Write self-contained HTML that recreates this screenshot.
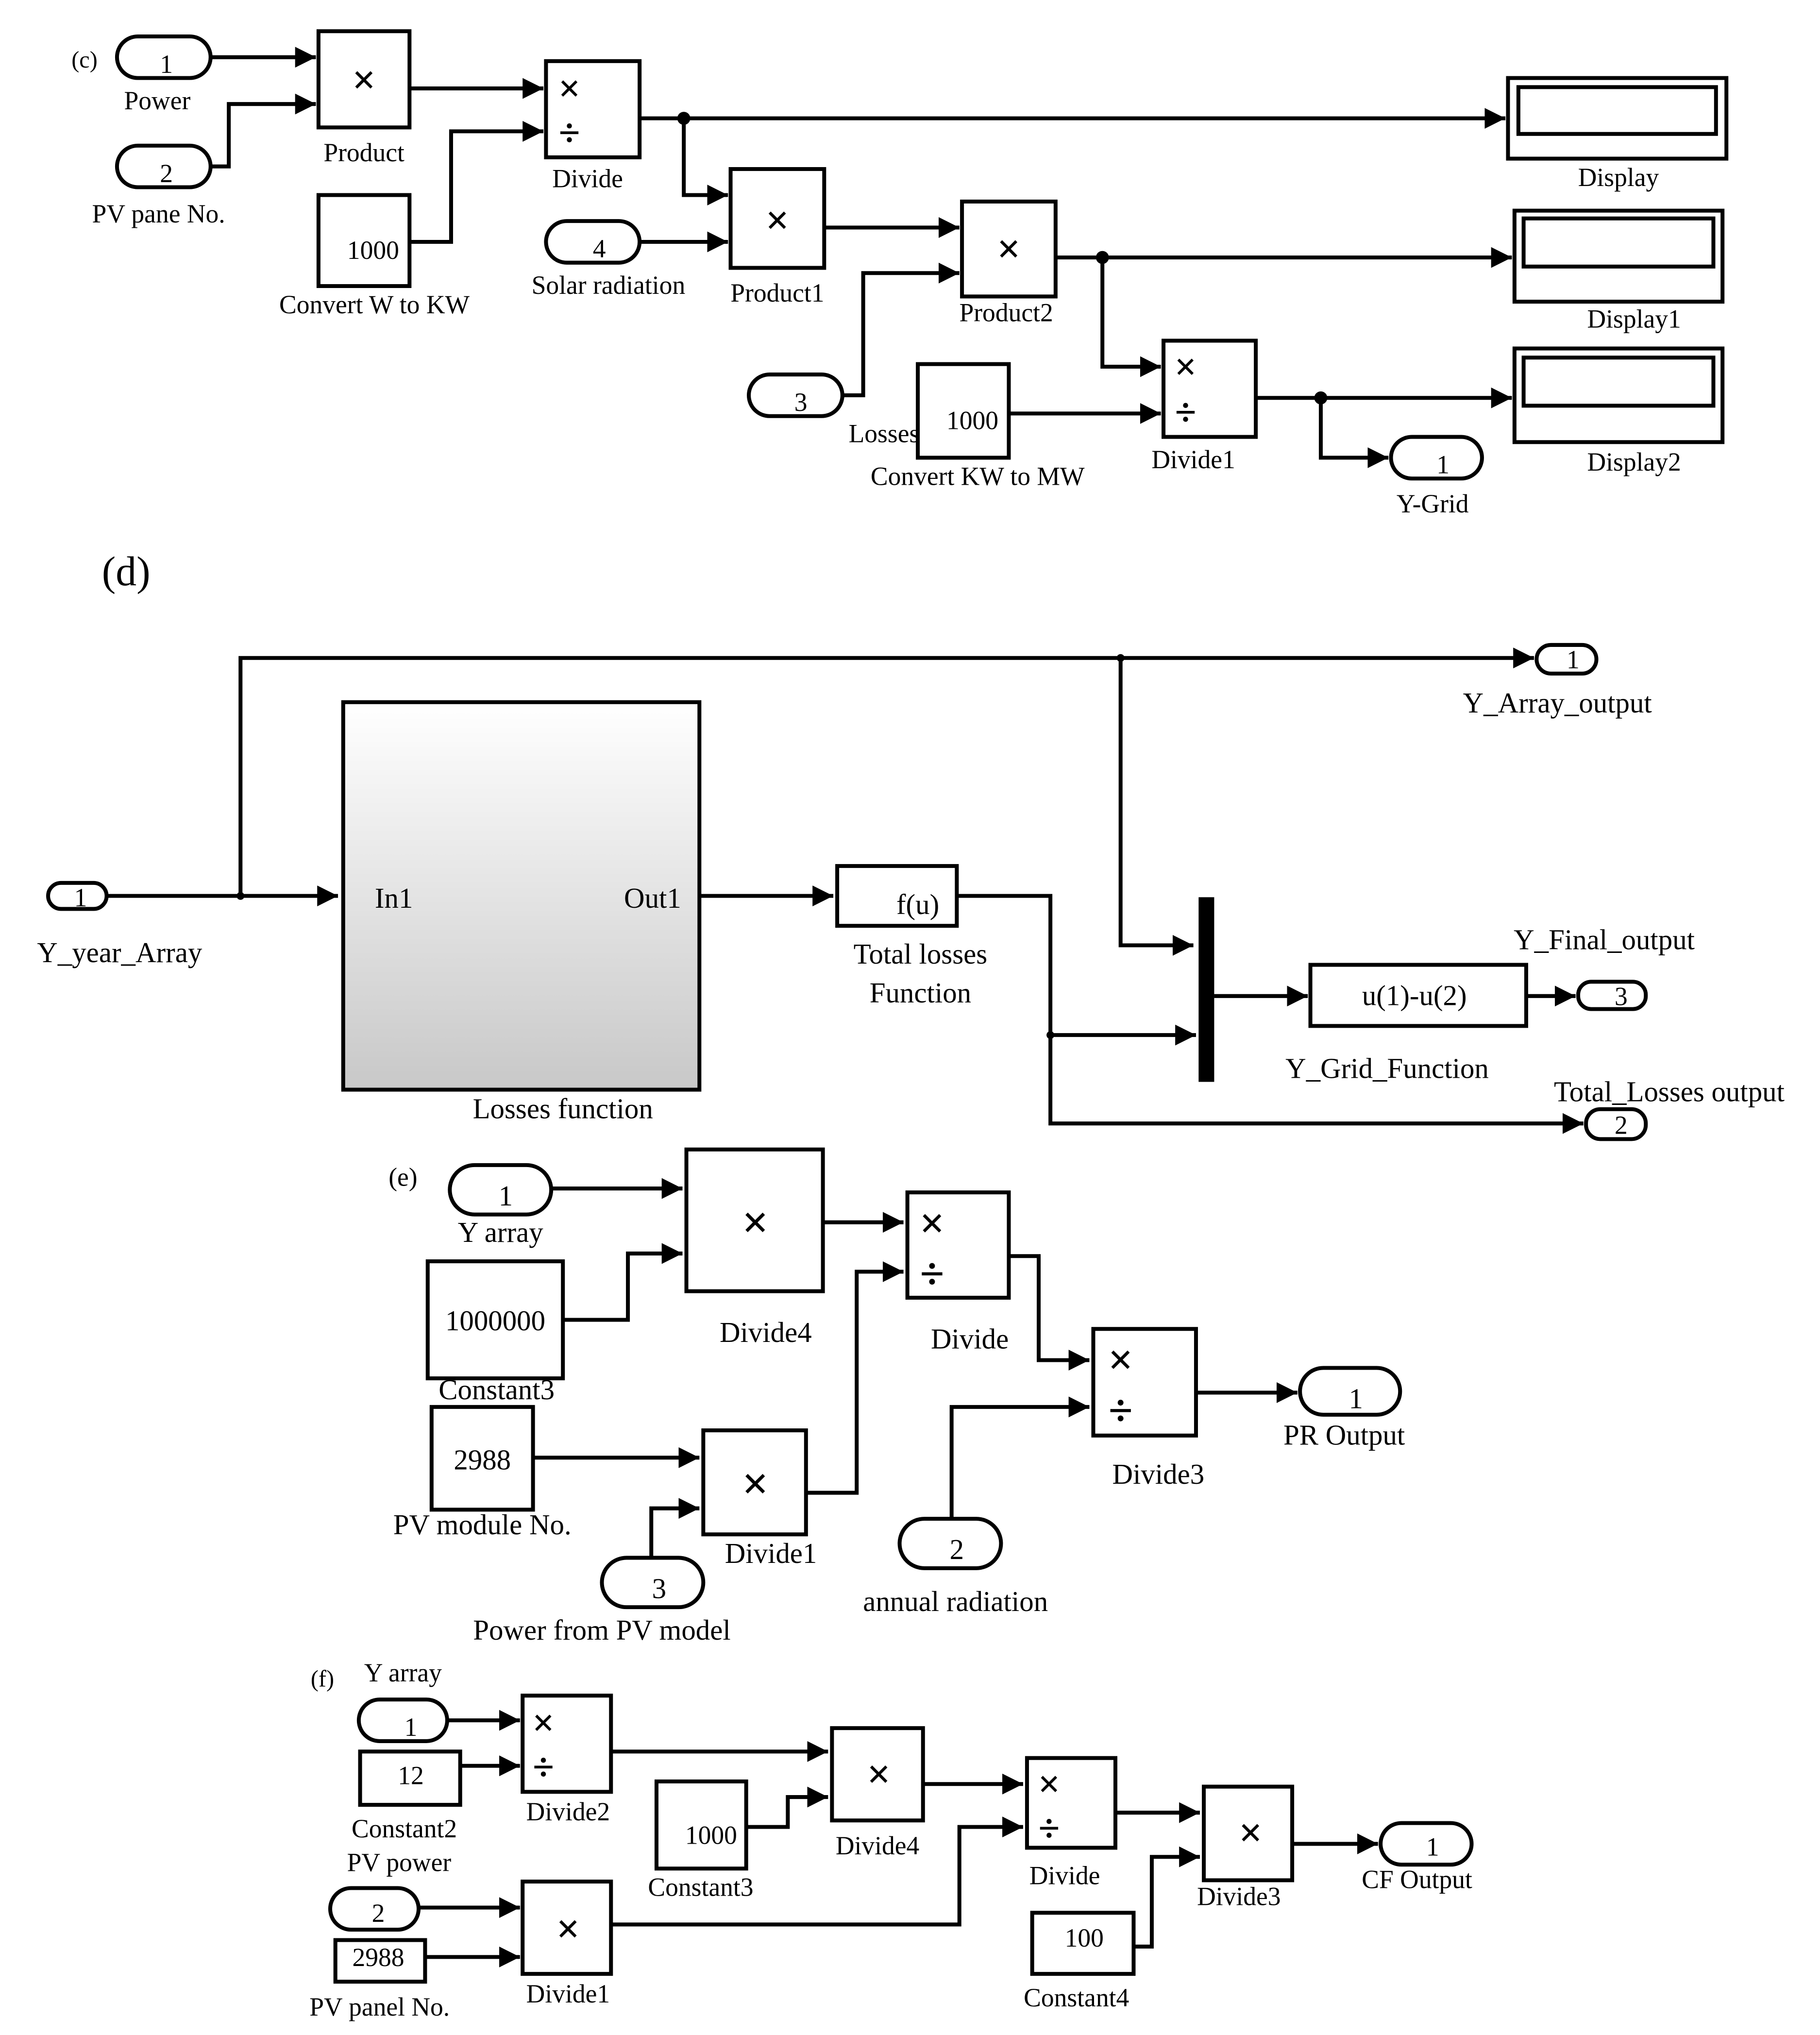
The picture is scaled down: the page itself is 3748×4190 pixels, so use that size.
<!DOCTYPE html>
<html><head><meta charset="utf-8"><style>
html,body{margin:0;padding:0;background:#fff;}
svg{display:block;}
text{font-family:"Liberation Serif",serif;fill:#000;}
.m{font-weight:bold;}
</style></head><body>
<svg width="3748" height="4190" viewBox="0 0 1400 1565" preserveAspectRatio="none" xmlns="http://www.w3.org/2000/svg">
<defs>
<marker id="a" markerUnits="userSpaceOnUse" markerWidth="18" markerHeight="16" refX="16" refY="8" orient="auto"><path d="M0,0 L16,8 L0,16 Z" fill="#000"/></marker>
<linearGradient id="g" x1="0" y1="0" x2="0" y2="1"><stop offset="0" stop-color="#fff"/><stop offset="1" stop-color="#c8c8c8"/></linearGradient>
</defs>
<g fill="none" stroke="#000" stroke-width="3">
<!-- (c) -->
<rect x="90" y="28" width="72" height="32" rx="16"/>
<rect x="90" y="112" width="72" height="32" rx="16"/>
<rect x="245" y="24" width="70" height="74"/>
<rect x="245" y="150" width="70" height="70"/>
<rect x="420" y="47" width="72" height="74"/>
<rect x="1160" y="60" width="168" height="62"/><rect x="1168" y="67" width="152" height="36"/>
<rect x="562" y="130" width="72" height="76"/>
<rect x="420" y="170" width="72" height="32" rx="16"/>
<rect x="740" y="155" width="72" height="73"/>
<rect x="576" y="288" width="72" height="32" rx="16"/>
<rect x="1165" y="162" width="160" height="70"/><rect x="1172" y="168" width="146" height="37"/>
<rect x="706" y="280" width="70" height="72"/>
<rect x="895" y="262" width="71" height="74"/>
<rect x="1165" y="268" width="160" height="72"/><rect x="1172" y="275" width="146" height="37"/>
<rect x="1070" y="336" width="70" height="32" rx="16"/>
<path d="M162,44 H243" marker-end="url(#a)"/>
<path d="M162,128 H176 V80 H243" marker-end="url(#a)"/>
<path d="M315,68 H418" marker-end="url(#a)"/>
<path d="M315,186 H347 V101 H418" marker-end="url(#a)"/>
<path d="M492,91 H1158" marker-end="url(#a)"/>
<path d="M526,91 V150 H560" marker-end="url(#a)"/>
<path d="M492,186 H560" marker-end="url(#a)"/>
<path d="M634,175 H738" marker-end="url(#a)"/>
<path d="M648,304 H664 V210 H738" marker-end="url(#a)"/>
<path d="M812,198 H1163" marker-end="url(#a)"/>
<path d="M848,198 V282 H893" marker-end="url(#a)"/>
<path d="M776,318 H893" marker-end="url(#a)"/>
<path d="M966,306 H1163" marker-end="url(#a)"/>
<path d="M1016,306 V352 H1068" marker-end="url(#a)"/>
<!-- (d) -->
<rect x="1182" y="496" width="46" height="22" rx="11"/>
<rect x="37" y="679" width="45" height="20" rx="10"/>
<rect x="264" y="540" width="274" height="298" fill="url(#g)"/>
<rect x="644" y="666" width="92" height="46"/>
<rect x="1008" y="742" width="166" height="47"/>
<rect x="1214" y="755" width="52" height="21" rx="10"/>
<rect x="1220" y="853" width="46" height="23" rx="11"/>
<path d="M82,689 H260" marker-end="url(#a)"/>
<path d="M185,689 V506 H1180" marker-end="url(#a)"/>
<path d="M862,506 V727 H918" marker-end="url(#a)"/>
<path d="M538,689 H641" marker-end="url(#a)"/>
<path d="M736,689 H808 V864 H1218" marker-end="url(#a)"/>
<path d="M808,796 H920" marker-end="url(#a)"/>
<path d="M934,766 H1006" marker-end="url(#a)"/>
<path d="M1174,766 H1212" marker-end="url(#a)"/>
<!-- (e) -->
<rect x="346" y="896" width="78" height="38" rx="19"/>
<rect x="528" y="884" width="105" height="109"/>
<rect x="329" y="970" width="104" height="90"/>
<rect x="698" y="917" width="78" height="81"/>
<rect x="541" y="1100" width="79" height="80"/>
<rect x="332" y="1082" width="78" height="79"/>
<rect x="463" y="1198" width="78" height="38" rx="19"/>
<rect x="841" y="1022" width="79" height="82"/>
<rect x="692" y="1168" width="78" height="38" rx="19"/>
<rect x="1000" y="1052" width="77" height="36" rx="18"/>
<path d="M424,914 H525" marker-end="url(#a)"/>
<path d="M433,1015 H483 V964 H525" marker-end="url(#a)"/>
<path d="M633,940 H695" marker-end="url(#a)"/>
<path d="M776,966 H799 V1046 H838" marker-end="url(#a)"/>
<path d="M620,1148 H659 V978 H695" marker-end="url(#a)"/>
<path d="M410,1121 H538" marker-end="url(#a)"/>
<path d="M501,1198 V1160 H538" marker-end="url(#a)"/>
<path d="M732,1168 V1082 H838" marker-end="url(#a)"/>
<path d="M920,1071 H998" marker-end="url(#a)"/>
<!-- (f) -->
<rect x="276" y="1307" width="68" height="32" rx="16"/>
<rect x="277" y="1347" width="77" height="41"/>
<rect x="402" y="1304" width="68" height="74"/>
<rect x="640" y="1329" width="70" height="71"/>
<rect x="505" y="1370" width="69" height="67"/>
<rect x="790" y="1352" width="68" height="69"/>
<rect x="254" y="1452" width="68" height="32" rx="16"/>
<rect x="258" y="1492" width="69" height="32"/>
<rect x="402" y="1447" width="68" height="71"/>
<rect x="926" y="1374" width="68" height="72"/>
<rect x="794" y="1471" width="78" height="47"/>
<rect x="1062" y="1402" width="70" height="32" rx="16"/>
<path d="M344,1323 H400" marker-end="url(#a)"/>
<path d="M354,1358 H400" marker-end="url(#a)"/>
<path d="M470,1347 H637" marker-end="url(#a)"/>
<path d="M574,1405 H606 V1382 H637" marker-end="url(#a)"/>
<path d="M710,1372 H787" marker-end="url(#a)"/>
<path d="M322,1467 H400" marker-end="url(#a)"/>
<path d="M327,1505 H400" marker-end="url(#a)"/>
<path d="M470,1480 H738 V1405 H787" marker-end="url(#a)"/>
<path d="M858,1394 H923" marker-end="url(#a)"/>
<path d="M872,1497 H886 V1428 H923" marker-end="url(#a)"/>
<path d="M994,1418 H1060" marker-end="url(#a)"/>
</g>
<g fill="#000">
<circle cx="526" cy="91" r="5"/><circle cx="848" cy="198" r="5"/><circle cx="1016" cy="306" r="5"/>
<circle cx="185" cy="689" r="3"/><circle cx="862" cy="506" r="3"/><circle cx="808" cy="796" r="3"/>
<rect x="922" y="690" width="12" height="142"/>
</g>
<g font-size="20" text-anchor="middle">
<text x="65" y="52" font-size="18">(c)</text>
<text x="128" y="56">1</text><text x="121" y="84">Power</text>
<text x="128" y="140">2</text><text x="122" y="171">PV pane No.</text>
<text class="m" x="280" y="72" font-size="32">×</text><text x="280" y="124">Product</text>
<text x="287" y="199">1000</text><text x="288" y="241">Convert W to KW</text>
<text class="m" x="438" y="78" font-size="30">×</text><text class="m" x="438" y="112" font-size="30">÷</text><text x="452" y="144">Divide</text>
<text x="1245" y="143">Display</text>
<text class="m" x="598" y="180" font-size="32">×</text><text x="598" y="232">Product1</text>
<text x="461" y="198">4</text><text x="468" y="226">Solar radiation</text>
<text class="m" x="776" y="202" font-size="32">×</text><text x="774" y="247">Product2</text>
<text x="616" y="316">3</text><text x="680" y="340">Losses</text>
<text x="1257" y="252">Display1</text>
<text x="748" y="330">1000</text><text x="752" y="373">Convert KW to MW</text>
<text class="m" x="912" y="292" font-size="30">×</text><text class="m" x="912" y="327" font-size="30">÷</text><text x="918" y="360">Divide1</text>
<text x="1257" y="362">Display2</text>
<text x="1110" y="364">1</text><text x="1102" y="394">Y-Grid</text>
<text x="97" y="450" font-size="32">(d)</text>
<text x="1210" y="514">1</text><text x="1198" y="548" font-size="22">Y_Array_output</text>
<text x="62" y="697">1</text><text x="92" y="740" font-size="22">Y_year_Array</text>
<text x="303" y="698" font-size="22">In1</text><text x="502" y="698" font-size="22">Out1</text>
<text x="433" y="860" font-size="22">Losses function</text>
<text x="706" y="703" font-size="22">f(u)</text>
<text x="708" y="741" font-size="22">Total losses</text><text x="708" y="771" font-size="22">Function</text>
<text x="1088" y="773" font-size="22">u(1)-u(2)</text><text x="1067" y="829" font-size="22">Y_Grid_Function</text>
<text x="1247" y="773">3</text><text x="1234" y="730" font-size="22">Y_Final_output</text>
<text x="1247" y="872">2</text><text x="1284" y="847" font-size="22">Total_Losses output</text>
<text x="310" y="912">(e)</text>
<text x="389" y="927" font-size="22">1</text><text x="385" y="955" font-size="22">Y array</text>
<text class="m" x="581" y="952" font-size="36">×</text><text x="589" y="1032" font-size="22">Divide4</text>
<text x="381" y="1023" font-size="22">1000000</text><text x="382" y="1076" font-size="22">Constant3</text>
<text class="m" x="717" y="952" font-size="34">×</text><text class="m" x="717" y="991" font-size="34">÷</text><text x="746" y="1037" font-size="22">Divide</text>
<text class="m" x="581" y="1153" font-size="36">×</text><text x="593" y="1202" font-size="22">Divide1</text>
<text x="371" y="1130" font-size="22">2988</text><text x="371" y="1180" font-size="22">PV module No.</text>
<text x="507" y="1229" font-size="22">3</text><text x="463" y="1261" font-size="22">Power from PV model</text>
<text class="m" x="862" y="1057" font-size="34">×</text><text class="m" x="862" y="1096" font-size="34">÷</text><text x="891" y="1141" font-size="22">Divide3</text>
<text x="736" y="1199" font-size="22">2</text><text x="735" y="1239" font-size="22">annual radiation</text>
<text x="1043" y="1083" font-size="22">1</text><text x="1034" y="1111" font-size="22">PR Output</text>
<text x="248" y="1297" font-size="18">(f)</text><text x="310" y="1293">Y array</text>
<text x="316" y="1335">1</text>
<text x="316" y="1372">12</text><text x="311" y="1413">Constant2</text><text x="307" y="1439">PV  power</text>
<text class="m" x="418" y="1335" font-size="30">×</text><text class="m" x="418" y="1369" font-size="30">÷</text><text x="437" y="1400">Divide2</text>
<text class="m" x="676" y="1375" font-size="32">×</text><text x="675" y="1426">Divide4</text>
<text x="547" y="1418">1000</text><text x="539" y="1458">Constant3</text>
<text class="m" x="807" y="1382" font-size="30">×</text><text class="m" x="807" y="1416" font-size="30">÷</text><text x="819" y="1449">Divide</text>
<text x="291" y="1478">2</text>
<text x="291" y="1512">2988</text><text x="292" y="1550">PV panel No.</text>
<text class="m" x="437" y="1494" font-size="32">×</text><text x="437" y="1540">Divide1</text>
<text class="m" x="962" y="1420" font-size="32">×</text><text x="953" y="1465">Divide3</text>
<text x="834" y="1497">100</text><text x="828" y="1543">Constant4</text>
<text x="1102" y="1427">1</text><text x="1090" y="1452">CF Output</text>
</g>
</svg>
</body></html>
